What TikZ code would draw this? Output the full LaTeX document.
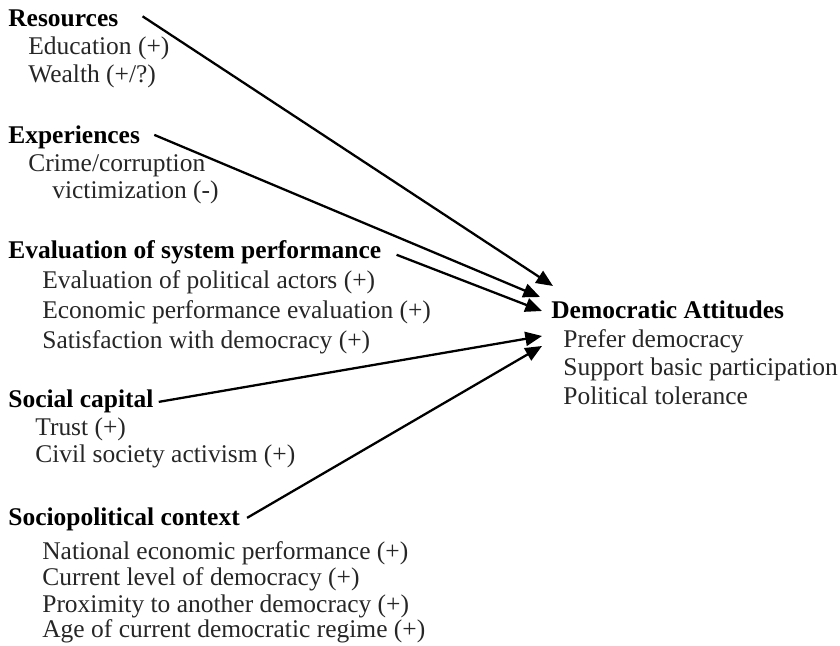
\documentclass[tikz,border=0pt]{standalone}
\usepackage{fontspec}
\setmainfont{Liberation Serif}
\usetikzlibrary{arrows.meta}

\tikzset{
	head/.style={anchor=base west, inner sep=0pt, font=\fontsize{14.5}{17}\selectfont\bfseries},
	item/.style={anchor=base west, inner sep=0pt, text=black!85, font=\fontsize{14.5}{17}\selectfont},
	link/.style={line width=1.3pt, -{Triangle[length=9.5pt, width=8pt]}}
}

\begin{document}
\begin{tikzpicture}[x=0.02cm, y=-0.02cm]
			\useasboundingbox (0,0) rectangle (840,646);

			\node [head] (res) at (8,26) {Resources};
			\node [item] (edu) at (28,54) {Education (+)};
			\node [item] (wea) at (28,82) {Wealth (+/?)};

			\node [head] (exp) at (8,143) {Experiences};
			\node [item] (cri) at (28,171) {Crime/corruption};
			\node [item] (vic) at (52,198) {victimization (-)};

			\node [head] (eva) at (8,258) {Evaluation of system performance};
			\node [item] (pol) at (42,288) {Evaluation of political actors (+)};
			\node [item] (eco) at (42,318) {Economic performance evaluation (+)};
			\node [item] (sat) at (42,348) {Satisfaction with democracy (+)};

			\node [head] (soc) at (8,407) {Social capital};
			\node [item] (tru) at (35,435) {Trust (+)};
			\node [item] (civ) at (35,462) {Civil society activism (+)};

			\node [head] (spc) at (8,525) {Sociopolitical context};
			\node [item] (nat) at (42,559) {National economic performance (+)};
			\node [item] (cur) at (42,585) {Current level of democracy (+)};
			\node [item] (pro) at (42,612) {Proximity to another democracy (+)};
			\node [item] (age) at (42,637) {Age of current democratic regime (+)};

			\node [head] (att) at (551,318) {Democratic Attitudes};
			\node [item] (pre) at (563,347) {Prefer democracy};
			\node [item] (sup) at (563,375) {Support basic participation};
			\node [item] (tol) at (563,404) {Political tolerance};

			% arrow tips in front of the outcome
			\coordinate (t1) at (553,286);
			\coordinate (t2) at (540,297);
			\coordinate (t3) at (542,311);
			\coordinate (t4) at (542,336);
			\coordinate (t5) at (542,346);

			\draw [link] ([shift={(24,-1.5)}]res.east) to (t1);
			\draw [link] ([shift={(14,-2)}]exp.east) to (t2);
			\draw [link] ([shift={(15,3)}]eva.east) to (t3);
			\draw [link] ([shift={(5,1)}]soc.east) to (t4);
			\draw [link] ([shift={(7,-1)}]spc.east) to (t5);
		\end{tikzpicture}
\end{document}
